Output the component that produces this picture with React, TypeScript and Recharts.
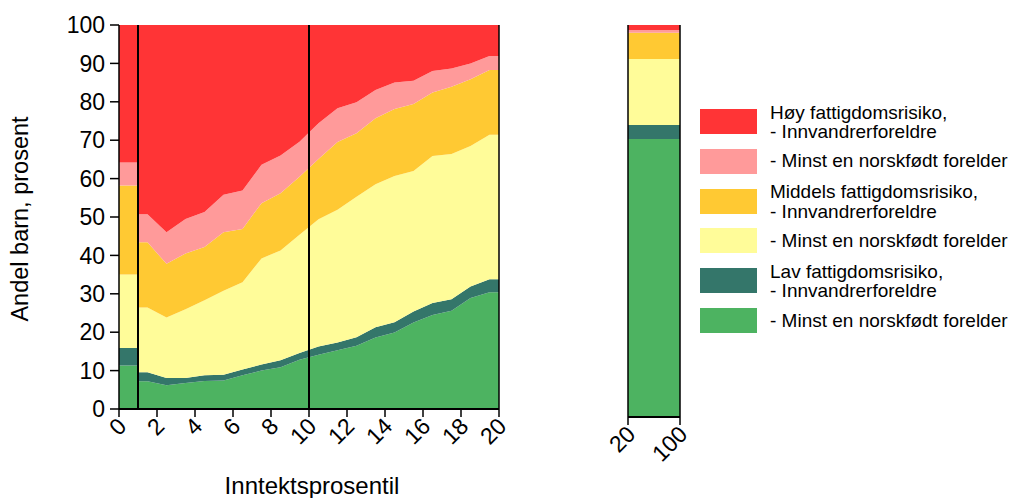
import React from "react";
import { AreaChart, Area, XAxis, YAxis, ReferenceLine } from "recharts";

// Percentile bins: first bin 0–1 is drawn as a step, the rest at bin midpoints
const binX = [0, 1.5, 2.5, 3.5, 4.5, 5.5, 6.5, 7.5, 8.5, 9.5, 10.5, 11.5, 12.5, 13.5, 14.5, 15.5, 16.5, 17.5, 18.5, 19.5];

// Shares (percent) per bin, from bottom to top of the stack
const lavNorsk = [11.3, 7.2, 6.2, 6.8, 7.3, 7.4, 8.8, 10.0, 10.9, 12.8, 14.1, 15.3, 16.5, 18.6, 19.9, 22.5, 24.5, 25.6, 28.9, 30.4];
const lavInnv = [4.6, 2.4, 1.9, 1.3, 1.5, 1.5, 1.5, 1.6, 1.8, 1.8, 2.2, 2.0, 2.2, 2.7, 2.7, 2.9, 3.1, 3.0, 3.0, 3.4];
const middelsNorsk = [19.1, 16.8, 15.7, 17.9, 19.5, 21.9, 22.7, 27.6, 28.6, 30.8, 33.1, 34.6, 36.6, 37.2, 38.1, 36.6, 38.3, 37.8, 36.6, 37.6];
const middelsInnv = [23.2, 17.0, 14.0, 14.5, 13.9, 15.2, 13.9, 14.4, 14.9, 15.1, 15.7, 17.6, 16.5, 17.2, 17.4, 17.4, 16.5, 17.5, 17.4, 16.9];
const hoyNorsk = [6.0, 7.3, 8.2, 9.0, 9.1, 9.8, 10.0, 10.0, 9.8, 9.1, 9.3, 8.8, 8.1, 7.4, 6.9, 6.1, 5.6, 4.8, 4.1, 3.6];
const hoyInnv = [35.8, 49.3, 54.0, 50.5, 48.7, 44.2, 43.1, 36.4, 34.0, 30.4, 25.6, 21.7, 20.1, 16.9, 15.0, 14.5, 12.0, 11.3, 10.0, 8.1];

// Percentile 20–100 aggregate
const restRange = [20, 100];
const restValues = { lavNorsk: 70.9, lavInnv: 3.6, middelsNorsk: 16.8, middelsInnv: 6.7, hoyNorsk: 0.7, hoyInnv: 1.3 };

const xTicksLeft = [0, 2, 4, 6, 8, 10, 12, 14, 16, 18, 20];
const yTicks = [0, 10, 20, 30, 40, 50, 60, 70, 80, 90, 100];
const refLinesX = [1, 10];

const series = [
  { key: "lavNorsk", color: "#4DB361" },
  { key: "lavInnv", color: "#34766A" },
  { key: "middelsNorsk", color: "#FFFC99" },
  { key: "middelsInnv", color: "#FFC933" },
  { key: "hoyNorsk", color: "#FF9A9A" },
  { key: "hoyInnv", color: "#FF3436" },
];

const legendItems = [
  { color: "#FF3436", lines: ["Høy fattigdomsrisiko,", "- Innvandrerforeldre"] },
  { color: "#FF9A9A", lines: ["- Minst en norskfødt forelder"] },
  { color: "#FFC933", lines: ["Middels fattigdomsrisiko,", "- Innvandrerforeldre"] },
  { color: "#FFFC99", lines: ["- Minst en norskfødt forelder"] },
  { color: "#34766A", lines: ["Lav fattigdomsrisiko,", "- Innvandrerforeldre"] },
  { color: "#4DB361", lines: ["- Minst en norskfødt forelder"] },
];

const arrays: Record<string, number[]> = { lavNorsk, lavInnv, middelsNorsk, middelsInnv, hoyNorsk, hoyInnv };

function rowAt(x: number, i: number) {
  const r: any = { x };
  for (const k of Object.keys(arrays)) r[k] = arrays[k][i];
  return r;
}

// Build step for the first bin and flat ends
const leftData: any[] = [];
leftData.push(rowAt(0, 0));
leftData.push(rowAt(1, 0));
leftData.push(rowAt(1, 1));
for (let i = 1; i < binX.length; i++) leftData.push(rowAt(binX[i], i));
leftData.push(rowAt(20, binX.length - 1));

const rightData = restRange.map((x) => ({ x, ...restValues }));

const FONT = "'Liberation Sans', Arial, Helvetica, sans-serif";

const RotTick = (props: any) => {
  const { x, y, payload } = props;
  const ax = x + 3;
  const ay = y + 3;
  return (
    <text
      x={ax}
      y={ay}
      transform={`rotate(-45 ${ax} ${ay})`}
      textAnchor="end"
      dy="0.355em"
      fontSize={23}
      fontFamily={FONT}
      fill="#000"
    >
      {payload.value}
    </text>
  );
};

const axisStroke = { stroke: "#000", strokeWidth: 1.5 };

function renderAreas() {
  return series.map((s) => (
    <Area
      key={s.key}
      type="linear"
      dataKey={s.key}
      stackId="1"
      stroke="none"
      fill={s.color}
      fillOpacity={1}
      dot={false}
      activeDot={false}
      isAnimationActive={false}
    />
  ));
}

export default function App() {
  return (
    <div style={{ position: "absolute", left: 0, top: 0, width: 1015, height: 498, fontFamily: FONT, background: "#fff", overflow: "hidden" }}>
      <div style={{ position: "absolute", left: 0, top: 0 }}>
        <AreaChart width={520} height={498} data={leftData} margin={{ top: 24, right: 20, bottom: 49, left: 59 }}>
          <XAxis
            dataKey="x"
            type="number"
            domain={[0, 20]}
            ticks={xTicksLeft}
            interval={0}
            height={40}
            tickSize={8}
            tickMargin={2}
            axisLine={{ stroke: "#000", strokeWidth: 2 }}
            tickLine={axisStroke}
            tick={<RotTick />}
          />
          <XAxis
            xAxisId="top"
            orientation="top"
            dataKey="x"
            type="number"
            domain={[0, 20]}
            ticks={xTicksLeft}
            interval={0}
            height={1}
            tickSize={7}
            axisLine={false}
            tickLine={axisStroke}
            tick={false}
          />
          <YAxis
            type="number"
            domain={[0, 100]}
            ticks={yTicks}
            interval={0}
            width={60}
            tickSize={9}
            tickMargin={5}
            axisLine={axisStroke}
            tickLine={axisStroke}
            tick={{ fontSize: 23, fill: "#000", fontFamily: FONT }}
          />
          <YAxis
            yAxisId="right"
            orientation="right"
            type="number"
            domain={[0, 100]}
            ticks={yTicks}
            interval={0}
            width={1}
            tickSize={7}
            axisLine={axisStroke}
            tickLine={axisStroke}
            tick={false}
          />
          {renderAreas()}
          {refLinesX.map((v) => (
            <ReferenceLine key={v} x={v} stroke="#000" strokeWidth={2} ifOverflow="visible" />
          ))}
        </AreaChart>
      </div>

      <div style={{ position: "absolute", left: 560, top: 0 }}>
        <AreaChart width={140} height={498} data={rightData} margin={{ top: 24, right: 19, bottom: 41, left: 48 }}>
          <XAxis
            dataKey="x"
            type="number"
            domain={restRange}
            ticks={restRange}
            interval={0}
            height={40}
            tickSize={8}
            tickMargin={2}
            axisLine={{ stroke: "#000", strokeWidth: 2 }}
            tickLine={axisStroke}
            tick={<RotTick />}
          />
          <XAxis
            xAxisId="top"
            orientation="top"
            dataKey="x"
            type="number"
            domain={restRange}
            ticks={restRange}
            interval={0}
            height={1}
            tickSize={7}
            axisLine={false}
            tickLine={axisStroke}
            tick={false}
          />
          <YAxis
            type="number"
            domain={[0, 100]}
            ticks={yTicks}
            interval={0}
            width={20}
            tickSize={9}
            axisLine={axisStroke}
            tickLine={axisStroke}
            tick={false}
          />
          <YAxis
            yAxisId="right"
            orientation="right"
            type="number"
            domain={[0, 100]}
            ticks={yTicks}
            width={1}
            axisLine={axisStroke}
            tickLine={false}
            tick={false}
          />
          {renderAreas()}
        </AreaChart>
      </div>

      {/* Axis titles */}
      <div
        style={{
          position: "absolute",
          left: 20,
          top: 219,
          transform: "translate(-50%, -50%) rotate(-90deg)",
          whiteSpace: "nowrap",
          fontSize: 23.5,
          lineHeight: "24px",
          color: "#000",
        }}
      >
        Andel barn, prosent
      </div>
      <div
        style={{
          position: "absolute",
          left: 312,
          top: 473,
          transform: "translateX(-50%)",
          whiteSpace: "nowrap",
          fontSize: 24,
          lineHeight: "26px",
          color: "#000",
        }}
      >
        Inntektsprosentil
      </div>

      {/* Legend */}
      {legendItems.map((it, i) => (
        <div key={i} style={{ position: "absolute", left: 700, top: 109 + i * 39.8, height: 25, width: 320 }}>
          <div style={{ position: "absolute", left: 0, top: 0, width: 57, height: 25, background: it.color }} />
          <div
            style={{
              position: "absolute",
              left: 70,
              top: 12.5,
              transform: "translateY(-50%)",
              fontSize: 19,
              lineHeight: "19.5px",
              whiteSpace: "nowrap",
              color: "#000",
            }}
          >
            {it.lines.map((l, j) => (
              <div key={j}>{l}</div>
            ))}
          </div>
        </div>
      ))}
    </div>
  );
}
